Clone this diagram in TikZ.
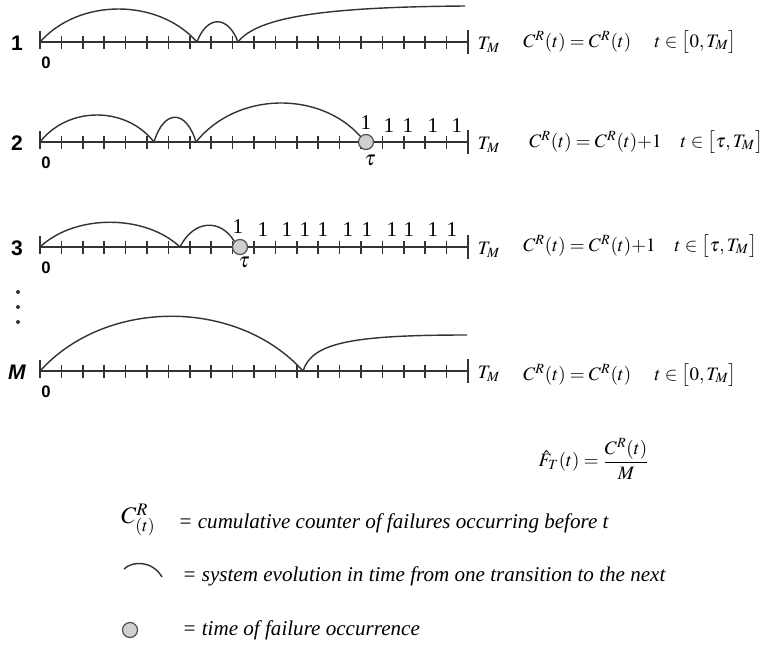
\documentclass[tikz,border=0pt]{standalone}
\usepackage{amsmath}
\usepackage{mathptmx}
\usepackage[no-math]{fontspec}
\setmainfont{Liberation Serif}
\newfontfamily\arialfont{Liberation Sans}
\usepackage{tikz}
\usetikzlibrary{positioning}
\definecolor{ink}{HTML}{333333}
\definecolor{failfill}{HTML}{D0D0D0}
\tikzset{
  axisline/.style={ink,line width=1.2pt},
  tickmark/.style={ink,line width=1pt},
  evo/.style={ink,line width=0.8pt},
  failpt/.style={circle,draw=ink!85,fill=failfill,line width=0.7pt,minimum size=0.3cm,inner sep=0pt},
  rowlab/.style={font=\arialfont\bfseries\fontsize{12}{14}\selectfont},
  zerolab/.style={font=\arialfont\bfseries\fontsize{9.5}{11}\selectfont},
  onelab/.style={font=\fontsize{12}{14}\selectfont,inner sep=0pt},
  eqn/.style={font=\fontsize{10.8}{13}\selectfont,inner sep=0pt},
  legtext/.style={font=\itshape\fontsize{12}{14}\selectfont,inner sep=0pt,anchor=base west}
}

\begin{document}
\begin{tikzpicture}[x=0.02cm,y=-0.02cm]
\useasboundingbox (0,0) rectangle (764,646);
% time axes of the runs
\foreach \y/\lab in {42/1,142/2,247/3,371/\textit{M}}{
  \draw[axisline] (40,\y)--(468,\y);
  \draw[axisline] (40,\y-11)--(40,\y+7);
  \draw[axisline] (468,\y-12)--(468,\y+12);
  \foreach \i in {1,...,19} \draw[tickmark] ({40+21.4*\i},\y-6.5)--++(0,13);
  \node[rowlab] (row\y) at (17,\y+1) {\lab};
  \node[zerolab] (zero\y) at (46,\y+21) {0};
  \node[eqn] (tm\y) at (489,\y+3) {$T_M$};
}
\foreach \d in {292,307,322} \fill[ink] (18,\d) circle (2);
% failures
\node[failpt] (tau2) at (366,142) {};
\node[eqn,font=\fontsize{12}{14}\selectfont] (taulab2) at (370,160) {$\tau$};
\node[failpt] (tau3) at (240,247) {};
\node[eqn,font=\fontsize{12}{14}\selectfont] (taulab3) at (244,262) {$\tau$};
% run 1
\draw[evo] (40,42) .. controls (79,-2) and (158,-2) .. (197,42);
\draw[evo] (197,42) .. controls (207,15) and (228,15) .. (238,42);
\draw[evo] (238,42) .. controls (258,16) and (330,7) .. (465,6);
% run 2
\draw[evo] (40,142) .. controls (68,106) and (126,106) .. (154,142);
\draw[evo] (154,142) .. controls (164,109) and (186,109) .. (196,142);
\draw[evo] (196,142) .. controls (237,91) and (320,91) .. (tau2.135);
% run 3
\draw[evo] (40,247) .. controls (75,214) and (145,214) .. (180,247);
\draw[evo] (180,247) .. controls (194,219) and (221,219) .. (tau3.135);
% run M
\draw[evo] (40,371) .. controls (106,298) and (237,298) .. (303,371);
\draw[evo] (303,371) .. controls (312,343) and (350,335) .. (467,335);
% counted failures
\foreach \x/\yy in {366/123,389/126,408/126,433/126,457/126}
  \node[onelab] at (\x,\yy) {1};
\foreach \x/\yy in {238/227,263/230,287/230,305/230,323/230,348/230,367/230,392/230,409/230,433/230,452/230}
  \node[onelab] at (\x,\yy) {1};
% estimates
\node[eqn,anchor=base west] (eq1) at (523,47) {$C^{R}(t)=C^{R}(t)\quad\; t\in\bigl[0,T_M\bigr]$};
\node[eqn,anchor=base west] (eq2) at (529,147) {$C^{R}(t)=C^{R}(t){+}1\quad t\in\bigl[\tau,T_M\bigr]$};
\node[eqn,anchor=base west] (eq3) at (523,251) {$C^{R}(t)=C^{R}(t){+}1\quad t\in\bigl[\tau,T_M\bigr]$};
\node[eqn,anchor=base west] (eqM) at (523,380) {$C^{R}(t)=C^{R}(t)\quad\; t\in\bigl[0,T_M\bigr]$};
\node[eqn] (fhat) at (594,459) {$\hat{F}_T(t)=\dfrac{C^{R}(t)}{M}$};
% legend
\node[eqn,font=\fontsize{13.5}{15}\selectfont,anchor=west] (legC) at (121,520) {$C^{R}_{(t)}$};
\node[legtext] (legCt) at (178,528) {= cumulative counter of failures occurring before t};
\draw[evo] (124,569) .. controls (132,561) and (152,560) .. (162,577);
\node[legtext] (legEt) at (182,581) {= system evolution in time from one transition to the next};
\node[failpt] (legF) at (130,630) {};
\node[legtext] (legFt) at (182,635) {= time of failure occurrence};
\end{tikzpicture}
\end{document}
